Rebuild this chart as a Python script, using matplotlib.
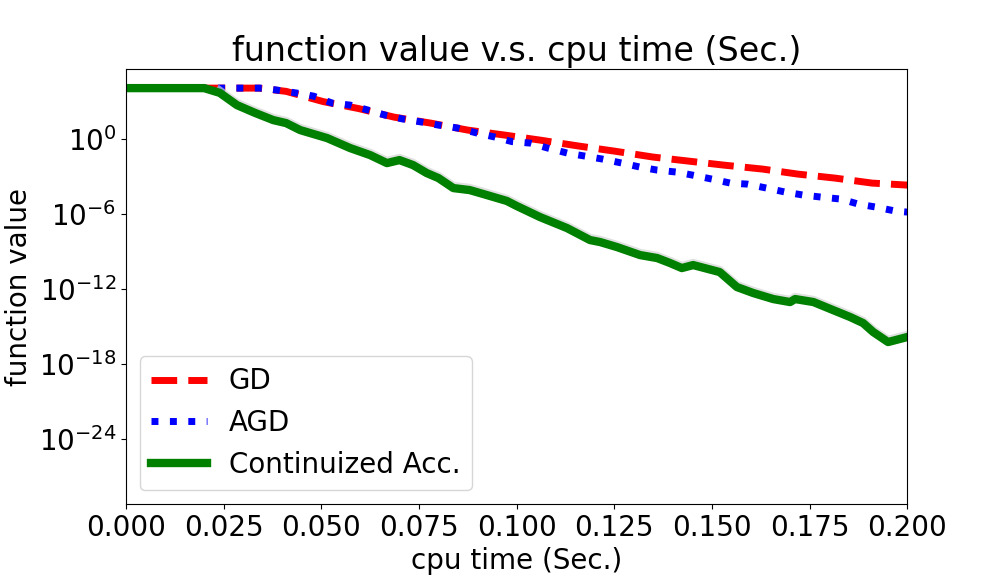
import numpy as np
import matplotlib
matplotlib.use("Agg")
import matplotlib.pyplot as plt
import matplotlib.transforms as mtransforms

# cpu time (s) and log10(function value)
gd_t = [0.0, 0.034, 0.041, 0.0505, 0.0596, 0.0686, 0.078, 0.0875, 0.097, 0.106,
        0.116, 0.125, 0.135, 0.144, 0.153, 0.163, 0.172, 0.1815, 0.191, 0.2]
gd_log = [4.08, 4.08, 3.82, 3.0, 2.44, 1.76, 1.28, 0.72, 0.32, -0.08,
          -0.56, -0.96, -1.44, -1.76, -2.08, -2.4, -2.8, -3.12, -3.52, -3.68]

agd_t = [0.0, 0.035, 0.0387, 0.0438, 0.048, 0.0528, 0.0574, 0.062, 0.0663, 0.071,
         0.0758, 0.080, 0.085, 0.0899, 0.0945, 0.0988, 0.1035, 0.108, 0.113, 0.1175,
         0.122, 0.127, 0.1316, 0.136, 0.141, 0.145, 0.150, 0.1547, 0.159, 0.164,
         0.1688, 0.1734, 0.178, 0.183, 0.1875, 0.192, 0.197, 0.2]
agd_log = [4.08, 4.08, 3.92, 3.68, 3.44, 2.88, 2.72, 2.32, 1.92, 1.6,
           1.36, 1.12, 0.88, 0.48, 0.16, -0.2, -0.32, -0.72, -1.12, -1.36,
           -1.6, -1.92, -2.24, -2.48, -2.64, -2.88, -3.2, -3.52, -3.6, -3.92,
           -4.24, -4.48, -4.64, -4.8, -5.2, -5.44, -5.76, -5.84]

acc_t = [0.0, 0.020, 0.024, 0.0284, 0.033, 0.0377, 0.041, 0.0446, 0.0515, 0.0574,
         0.0625, 0.0668, 0.070, 0.0735, 0.077, 0.080, 0.0838, 0.088, 0.0924, 0.0975,
         0.100, 0.106, 0.1129, 0.1188, 0.1214, 0.1257, 0.1316, 0.136, 0.1393, 0.1423,
         0.1452, 0.152, 0.1564, 0.1606, 0.1657, 0.170, 0.1713, 0.176, 0.181, 0.1854,
         0.1887, 0.1913, 0.1951, 0.2]
acc_log = [4.08, 4.08, 3.7, 2.72, 2.1, 1.52, 1.28, 0.72, 0.08, -0.72,
           -1.28, -1.92, -1.68, -2.08, -2.72, -3.12, -3.92, -4.08, -4.48, -4.95,
           -5.35, -6.24, -7.12, -8.08, -8.24, -8.64, -9.28, -9.52, -9.92, -10.32,
           -10.08, -10.64, -11.84, -12.32, -12.8, -13.04, -12.8, -13.04, -13.68, -14.24,
           -14.72, -15.44, -16.24, -15.84]

gd = 10.0 ** np.array(gd_log)
agd = 10.0 ** np.array(agd_log)
acc = 10.0 ** np.array(acc_log)

fig = plt.figure(figsize=(10.08, 5.76), dpi=100)
ax = fig.add_axes([0.125, 0.125, 0.775, 0.755])

ax.plot(gd_t, gd, "r--", lw=5, label="GD")
ax.plot(agd_t, agd, "b:", lw=5, label="AGD")
# light grey spread band drawn just above the green curve
band_tr = mtransforms.offset_copy(ax.transData, fig=fig, x=0, y=1.5, units="points")
ax.plot(acc_t[2:], acc[2:], color="lightgray", lw=6, alpha=0.7, transform=band_tr)
ax.plot(acc_t, acc, color="green", lw=6, label="Continuized Acc.")

ax.set_yscale("log")
ax.set_xlim(0, 0.2)
ax.set_ylim(10 ** -29.2, 10 ** 5.6)
ax.set_yticks([1e0, 1e-6, 1e-12, 1e-18, 1e-24])
ax.minorticks_off()
ax.set_xticks(np.arange(0, 0.2001, 0.025))
ax.tick_params(labelsize=20)

ax.set_title("function value v.s. cpu time (Sec.)", fontsize=24)
ax.set_xlabel("cpu time (Sec.)", fontsize=20)
ax.set_ylabel("function value", fontsize=20)
ax.legend(loc="lower left", fontsize=20)

fig.savefig("out.png", dpi=100)
